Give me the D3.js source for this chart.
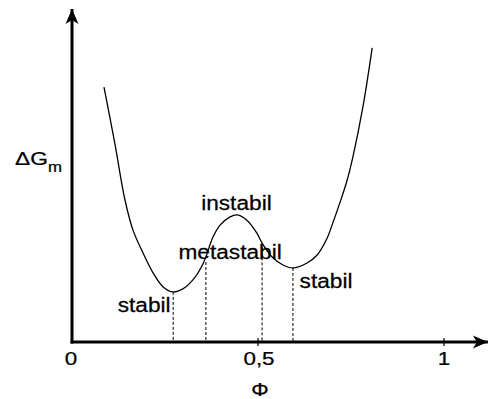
<!DOCTYPE html>
<head>
    <meta charset="utf-8">
    <style>
        body { margin: 0; background: #fff; }
        text { font-family: "Liberation Sans", Arial, sans-serif; fill: #000; stroke: #000; stroke-width: 0.25; }
        .curve { fill: none; stroke: #000; stroke-width: 1.3; }
        .guide { stroke: #000; stroke-width: 1; stroke-dasharray: 3,2; }
        .axis-line { stroke: #000; stroke-width: 3; }
        .tick { stroke: #000; stroke-width: 1.2; }
    </style>
</head>
<body>
    <svg width="489" height="399"></svg>
    <script src="https://d3js.org/d3.v7.min.js"></script>
    <script>
    // curve of the free energy of mixing
    var phi = [0.086, 0.116, 0.142, 0.164, 0.191, 0.218, 0.245, 0.272, 0.298, 0.325, 0.352, 0.379,
               0.398, 0.425, 0.444, 0.470, 0.497, 0.511, 0.538, 0.567, 0.594, 0.632, 0.659,
               0.686, 0.699, 0.720, 0.739, 0.755, 0.782, 0.807];
    var dG  = [76.8, 59.3, 43.0, 33.7, 26.8, 20.8, 16.6, 15.1, 16.0, 18.7, 23.5, 31.6,
               35.2, 37.7, 38.3, 36.7, 32.8, 29.8, 25.6, 23.2, 22.3, 23.8, 26.2,
               31.3, 35.2, 41.9, 48.5, 55.7, 70.8, 88.6];

    // dashed guide lines (phi, top value)
    var guidePhi = [0.272, 0.360, 0.511, 0.594];
    var guideG   = [15.1, 24.1, 28.5, 22.3];

    var labelText = ["stabil", "metastabil", "instabil", "stabil"];
    var labelPhi  = [0.194, 0.425, 0.442, 0.683];
    var labelG    = [9.0, 25.0, 39.8, 16.3];

    var xTicks = [0, 0.5, 1];
    var xTickLabels = ["0", "0,5", "1"];

    var svg = d3.select("svg");

    var x = d3.scaleLinear().domain([0, 1]).range([72, 444]);
    var y = d3.scaleLinear().domain([0, 100]).range([342, 10]);

    var defs = svg.append("defs");
    defs.append("marker")
        .attr("id", "arrow")
        .attr("viewBox", "-16 -7 17 14")
        .attr("refX", 0)
        .attr("refY", 0)
        .attr("markerWidth", 17)
        .attr("markerHeight", 14)
        .attr("markerUnits", "userSpaceOnUse")
        .attr("orient", "auto")
      .append("path")
        .attr("d", "M0,0 L-15,-6.5 L-11,0 L-15,6.5 Z")
        .attr("fill", "#000");

    // guides
    svg.append("g").selectAll("line")
        .data(guidePhi)
        .enter().append("line")
        .attr("class", "guide")
        .attr("x1", function(d) { return x(d); })
        .attr("x2", function(d) { return x(d); })
        .attr("y1", function(d, i) { return y(guideG[i]); })
        .attr("y2", y(0));

    // curve
    var pts = phi.map(function(p, i) { return [p, dG[i]]; });
    var line = d3.line()
        .x(function(d) { return x(d[0]); })
        .y(function(d) { return y(d[1]); })
        .curve(d3.curveCatmullRom.alpha(0.5));
    svg.append("path")
        .attr("class", "curve")
        .attr("d", line(pts));

    // axes with arrows
    svg.append("line")
        .attr("class", "axis-line")
        .attr("x1", x(0) - 1.5).attr("y1", y(0))
        .attr("x2", x(1.118)).attr("y2", y(0))
        .attr("marker-end", "url(#arrow)");
    svg.append("line")
        .attr("class", "axis-line")
        .attr("x1", x(0)).attr("y1", y(0) + 1.5)
        .attr("x2", x(0)).attr("y2", y(100.3))
        .attr("marker-end", "url(#arrow)");

    svg.append("g").selectAll("line")
        .data(xTicks.slice(1))
        .enter().append("line")
        .attr("class", "tick")
        .attr("x1", function(d) { return x(d); })
        .attr("x2", function(d) { return x(d); })
        .attr("y1", y(0) - 4)
        .attr("y2", y(0) + 4);

    svg.append("g").selectAll("text")
        .data(xTicks)
        .enter().append("text")
        .attr("transform", function(d) { return "translate(" + (x(d) - (d === 0 ? 1 : 0) + (d === 0.5 ? 1 : 0)) + ",365) scale(1.18,1)"; })
        .attr("text-anchor", "middle")
        .style("font-size", "19px")
        .text(function(d, i) { return xTickLabels[i]; });

    svg.append("text")
        .attr("transform", "translate(260,396) scale(1.15,1)")
        .attr("text-anchor", "middle")
        .style("font-size", "19px")
        .text("Φ");

    var yl = svg.append("text")
        .attr("transform", "translate(15,165) scale(1.2,1)")
        .style("font-size", "19px");
    yl.append("tspan").text("ΔG");
    yl.append("tspan").attr("dy", 7).style("font-size", "14px").text("m");

    svg.append("g").selectAll("text")
        .data(labelText)
        .enter().append("text")
        .attr("transform", function(d, i) { return "translate(" + x(labelPhi[i]) + "," + y(labelG[i]) + ") scale(1.08,1)"; })
        .attr("text-anchor", "middle")
        .style("font-size", "21px")
        .text(function(d) { return d; });
    </script>
</body>
